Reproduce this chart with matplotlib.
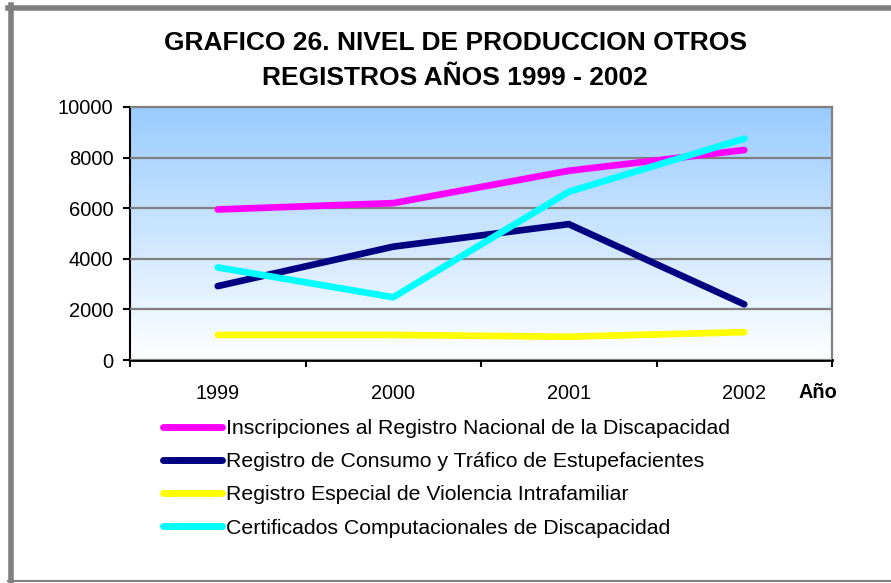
import matplotlib
matplotlib.use("Agg")
import matplotlib.pyplot as plt
from matplotlib.lines import Line2D
import numpy as np

plt.rcParams["font.family"] = ["Liberation Sans", "DejaVu Sans"]

# --- Data -------------------------------------------------------------------
years = ["1999", "2000", "2001", "2002"]
inscripciones = [5950, 6200, 7480, 8300]
consumo_trafico = [2920, 4480, 5370, 2200]
violencia = [990, 990, 920, 1100]
certificados = [3660, 2480, 6650, 8750]

series = [
    ("Inscripciones al Registro Nacional de la Discapacidad", inscripciones, "#FF00FF"),
    ("Registro de Consumo y Tráfico de Estupefacientes", consumo_trafico, "#000080"),
    ("Registro Especial de Violencia Intrafamiliar", violencia, "#FFFF00"),
    ("Certificados Computacionales de Discapacidad", certificados, "#00FFFF"),
]

W, H = 891, 583
fig = plt.figure(figsize=(W / 100, H / 100), dpi=100)

# outer frame (thicker on left/top)
fig.add_artist(Line2D([10.5 / W, 10.5 / W], [1 - 5 / H, 1 - 582 / H], color="#808080", lw=4))
fig.add_artist(Line2D([8 / W, 1], [1 - 7.5 / H, 1 - 7.5 / H], color="#808080", lw=4))
fig.add_artist(Line2D([8 / W, 1], [1 - 581 / H, 1 - 581 / H], color="#808080", lw=1.5))

ax = fig.add_axes([130 / W, 1 - 360 / H, 702 / W, 253 / H])

# blue-to-white gradient behind the plot
grad = np.linspace(0, 1, 256).reshape(-1, 1)
top = np.array([0.60, 0.80, 1.0])
bottom = np.array([1.0, 1.0, 1.0])
img = top * (1 - grad[..., None]) + bottom * grad[..., None]
ax.imshow(img, extent=[0, 1, 0, 1], transform=ax.transAxes, aspect="auto", zorder=0)

x = np.arange(len(years))
for label, vals, color in series:
    ax.plot(x, vals, color=color, lw=4.8, solid_capstyle="round",
            solid_joinstyle="round", label=label, zorder=3)

ax.set_xlim(-0.5, len(years) - 0.5)
ax.set_ylim(0, 10000)
ax.set_yticks(range(0, 10001, 2000))
ax.yaxis.grid(True, color="#808080", lw=1.6, zorder=1)
ax.set_axisbelow(False)
for gl in ax.get_ygridlines():
    gl.set_zorder(1)

ax.set_xticks(x)
ax.set_xticklabels(years)
ax.set_xticks(np.arange(-0.5, len(years)), minor=True)
ax.tick_params(axis="x", which="major", length=0, pad=17, labelsize=14.3)
ax.tick_params(axis="x", which="minor", length=5, width=1.5, direction="out")
ax.tick_params(axis="y", length=5, width=1.5, direction="out", labelsize=14.5, pad=7)

ax.spines["left"].set_color("black")
ax.spines["bottom"].set_color("black")
ax.spines["left"].set_linewidth(1.5)
ax.spines["bottom"].set_linewidth(2)
ax.spines["top"].set_color("#808080")
ax.spines["right"].set_color("#808080")
ax.spines["top"].set_linewidth(1.6)
ax.spines["right"].set_linewidth(1.6)

fig.text(818 / W, 1 - 392 / H, "Año", fontsize=14.3, fontweight="bold",
         ha="center", va="center")

fig.text(455 / W, 1 - 43 / H, "GRAFICO 26. NIVEL DE PRODUCCION OTROS",
         fontsize=19, fontweight="bold", ha="center", va="center")
fig.text(455 / W, 1 - 78 / H, "REGISTROS AÑOS 1999 - 2002",
         fontsize=19, fontweight="bold", ha="center", va="center")

leg = fig.legend(loc="upper left", bbox_to_anchor=(163 / W, 1 - 419 / H),
                 frameon=False, fontsize=15.3, handlelength=2.78, handletextpad=0.19,
                 labelspacing=0.67, borderpad=0, borderaxespad=0)
for line in leg.get_lines():
    line.set_linewidth(5)

fig.savefig("out.png", dpi=100)
